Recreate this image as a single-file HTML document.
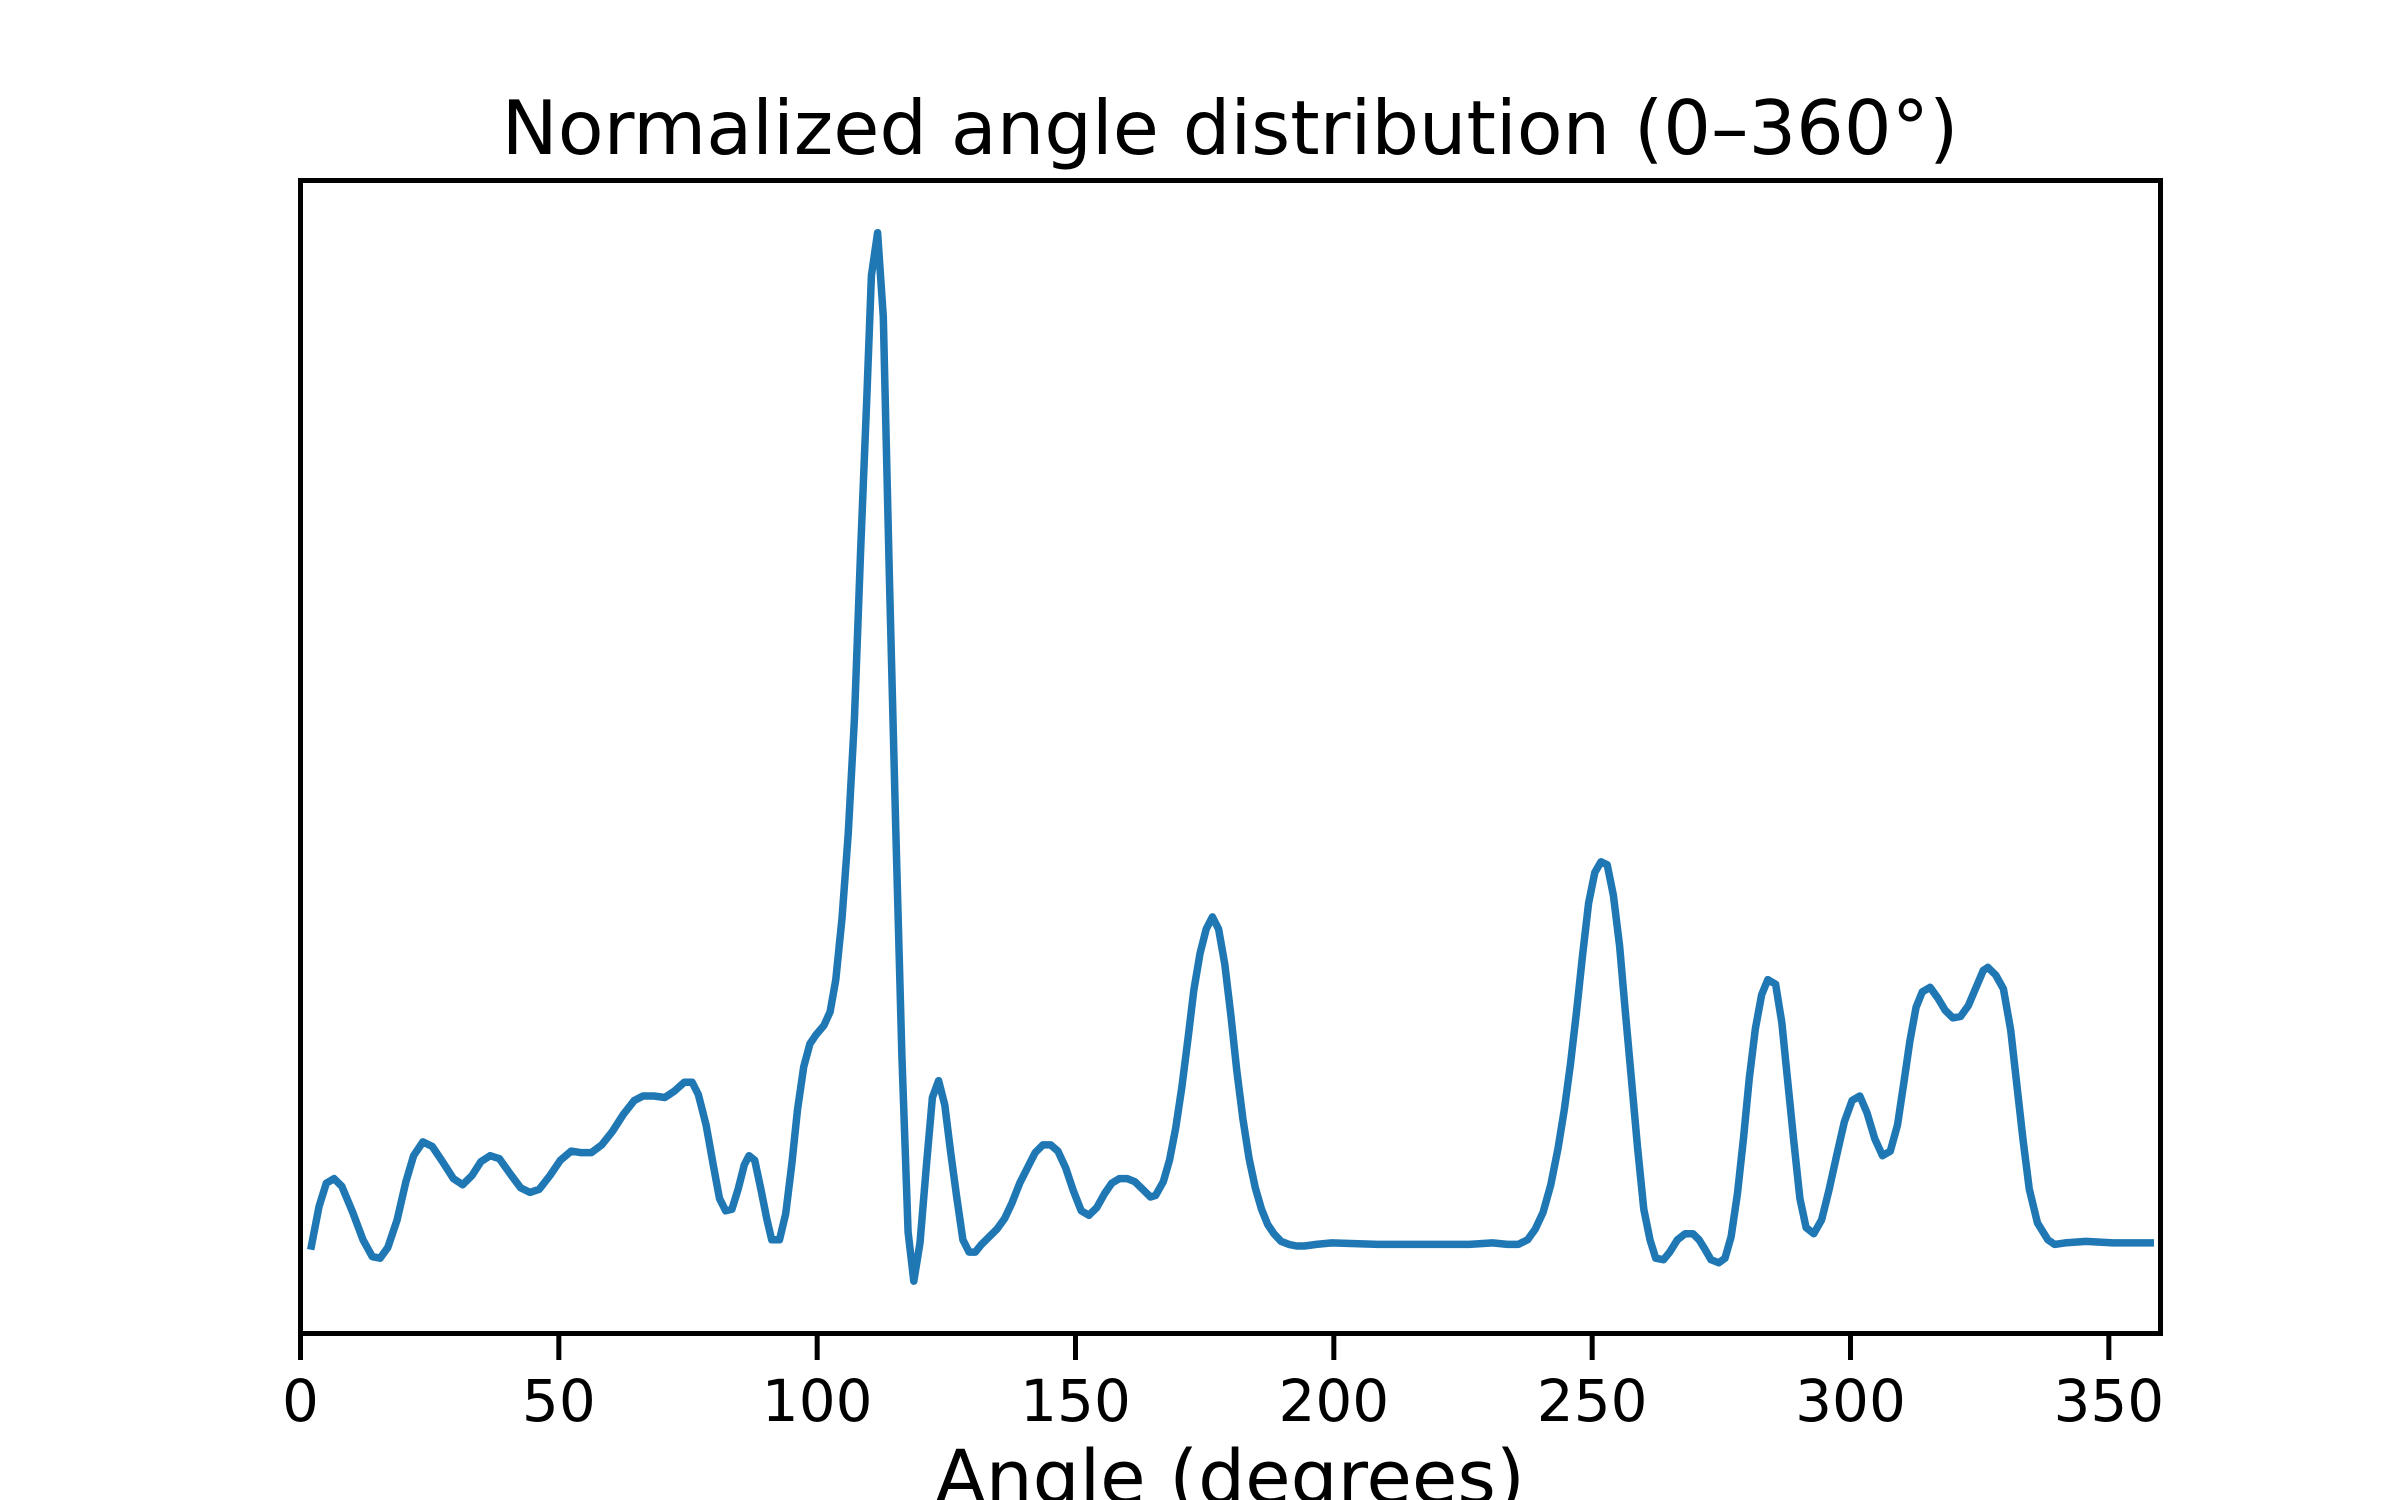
<!DOCTYPE html>
<html><head><meta charset="utf-8"><title>Normalized angle distribution</title>
<style>html,body{margin:0;padding:0;background:#fff;}svg{display:block;}</style></head>
<body>
<svg id="chart" width="2400" height="1500" viewBox="0 0 2400 1500" xmlns="http://www.w3.org/2000/svg" font-family="DejaVu Sans, Liberation Sans, sans-serif">
<rect width="2400" height="1500" fill="#fff"/>
<text x="1230" y="154" font-size="75" text-anchor="middle" fill="#000">Normalized angle distribution (0–360°)</text>
<g id="plot"></g>
<rect x="300.5" y="180.5" width="1860" height="1153" fill="none" stroke="#000" stroke-width="5"/>
<g id="xticks"></g>
<text x="1230" y="1503" font-size="74" text-anchor="middle" fill="#000">Angle (degrees)</text>
</svg>
<script>
const angles = [2.1,3.6,5.0,6.5,8.0,10.1,12.1,13.9,15.4,16.9,18.7,20.4,21.9,23.7,25.5,27.5,29.6,31.4,33.2,34.9,36.7,38.5,40.6,42.6,44.4,46.2,48.3,50.3,52.4,54.2,56.3,58.3,60.4,62.5,64.6,66.3,68.4,70.5,72.3,74.3,75.8,77.0,78.5,80.0,81.1,82.3,83.5,84.7,85.9,86.8,87.9,89.1,90.3,91.2,92.7,93.9,95.1,96.2,97.4,98.6,99.8,101.3,102.5,103.6,104.8,106.0,107.2,108.4,109.6,110.5,111.7,112.8,114.0,115.2,116.4,117.6,118.7,119.9,121.1,122.3,123.5,124.7,125.8,127.0,128.2,129.4,130.6,131.8,133.3,134.8,136.3,137.7,139.2,140.7,142.2,143.7,145.2,146.6,148.1,149.6,151.1,152.6,154.1,155.6,157.0,158.5,160.0,161.5,163.0,164.5,165.5,167.0,168.2,169.4,170.6,171.8,172.9,174.1,175.3,176.5,177.7,178.9,180.1,181.2,182.4,183.6,184.8,186.0,187.2,188.4,189.8,191.3,192.8,194.3,196.6,199.6,208.5,217.4,226.2,230.7,233.6,235.7,237.5,239.0,240.5,242.0,243.4,244.6,245.8,247.0,248.1,249.3,250.5,251.7,252.9,254.1,255.3,256.4,257.6,258.8,260.0,261.2,262.3,263.8,265.0,266.5,268.0,269.5,270.7,271.8,273.0,274.5,275.7,276.9,278.1,279.3,280.4,281.6,282.8,284.0,285.5,286.7,287.8,289.0,290.2,291.4,292.9,294.4,295.8,297.3,298.8,300.3,301.8,303.2,304.7,306.2,307.7,309.1,310.3,311.5,312.7,313.9,315.4,316.9,318.3,319.8,321.3,322.8,324.3,325.7,326.6,328.1,329.6,331.0,332.3,333.4,334.6,336.2,338.2,339.5,341.5,345.6,350.8,358.0];
const intensity = [57,83,98,101,96,79,61,50,49,56,74,99,116,125,122,112,101,97,103,112,116,114,104,95,92,94,103,113,119,118,118,123,132,143,152,155,155,154,158,164,164,156,136,108,88,80,81,94,110,116,113,94,74,61,61,78,111,146,174,189,195,201,210,231,271,326,401,511,611,691,719,664,491,331,181,66,34,59,108,154,165,149,119,89,61,53,53,58,63,68,75,85,98,108,118,123,123,119,108,93,80,77,82,91,98,101,101,99,94,89,90,99,113,134,161,193,224,248,264,272,264,241,207,172,140,114,95,81,71,65,60,58,57,57,58,59,58,58,58,59,58,58,61,68,79,97,121,146,176,211,246,281,301,308,306,286,253,211,166,121,81,61,49,48,53,61,65,65,61,55,48,46,49,63,91,128,166,199,221,231,228,203,166,126,88,69,65,74,93,116,138,152,155,144,127,116,119,136,163,191,213,223,226,219,211,206,207,214,226,237,239,234,225,198,159,126,94,72,61,58,59,60,59,59];
const xTicks = [0,50,100,150,200,250,300,350];

const X0 = 300.5, XS = 1860/360;
function xScale(d){ return X0 + d*XS; }
function yScale(v){ return 1333.2 - v*1.5306; }
const NS = 'http://www.w3.org/2000/svg';
const plot = document.getElementById('plot');
let dstr = '';
for (let i=0;i<angles.length;i++){
  dstr += (i?'L':'M') + xScale(angles[i]).toFixed(1) + ' ' + yScale(intensity[i]).toFixed(1);
}
const path = document.createElementNS(NS,'path');
path.setAttribute('d', dstr);
path.setAttribute('fill','none');
path.setAttribute('stroke','#1f77b4');
path.setAttribute('stroke-width','7.5');
path.setAttribute('stroke-linejoin','round');
path.setAttribute('stroke-linecap','square');


plot.appendChild(path);

const xg = document.getElementById('xticks');
xTicks.forEach(t=>{
  const x = xScale(t);
  const ln = document.createElementNS(NS,'line');
  ln.setAttribute('x1',x); ln.setAttribute('x2',x);
  ln.setAttribute('y1',1333); ln.setAttribute('y2',1360);
  ln.setAttribute('stroke','#000'); ln.setAttribute('stroke-width','5');
  
  
  xg.appendChild(ln);
  const tx = document.createElementNS(NS,'text');
  tx.setAttribute('x',x); tx.setAttribute('y',1421);
  tx.setAttribute('font-size','58'); tx.setAttribute('text-anchor','middle');
  tx.textContent = String(t);
  
  
  xg.appendChild(tx);
});
</script>
</body></html>
